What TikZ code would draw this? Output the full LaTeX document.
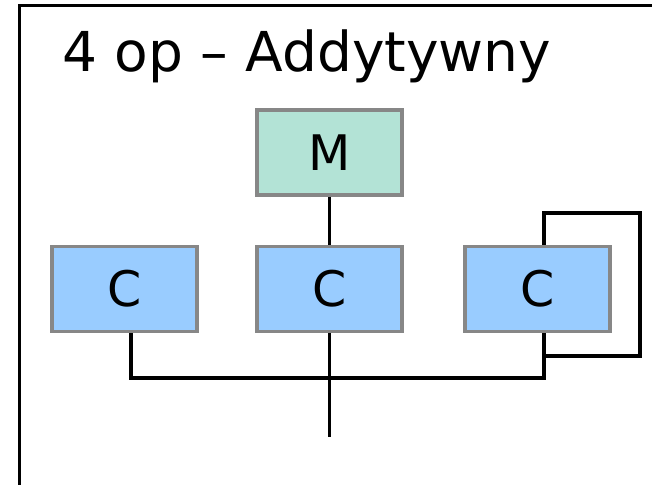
\documentclass[tikz,border=0pt]{standalone}
\usepackage{fontspec}
\setmainfont{DejaVu Sans}
\begin{document}
\begin{tikzpicture}[x=1pt,y=-1pt,
  unitbox/.style={draw=black!47, line width=3.4pt, minimum width=145pt, minimum height=85pt,
    inner sep=0pt, font=\fontsize{49}{52}\selectfont},
  mbox/.style={unitbox, fill=mfill},
  cbox/.style={unitbox, fill=cfill},
  wire/.style={line width=3.6pt, black}]
\definecolor{mfill}{HTML}{B3E3D6}
\definecolor{cfill}{HTML}{99CCFF}
\useasboundingbox (0,0) rectangle (652,484);
\clip (0,0) rectangle (652,484);
% outer frame
\draw[line width=3.8pt] (19.5,5.5) rectangle (670,500);
\node[anchor=base west, font=\fontsize{55}{60}\selectfont, inner sep=0pt] (title) at (62,72) {4 op – Addytywny};
% units
\node[mbox] (m) at (329.5,152.5) {M};
\node[cbox] (c1) at (124.5,289) {C};
\node[cbox] (c2) at (329.5,289) {C};
\node[cbox] (c3) at (537.5,289) {C};
% connections
\coordinate (j1) at (131,378);
\coordinate (j3) at (544,378);
\coordinate (out) at (329.5,437);
\coordinate (fb) at (544,356);
\draw[wire] (m.south) -- (c2.north);
\draw[wire] (c1.south -| j1) -- (j1) -- (j3) -- (c3.south -| j3);
\draw[wire] (c2.south) -- (out);
\draw[wire] (c3.north -| fb) -- (544,213) -- (640,213) -- (640,356) -- (fb);
\end{tikzpicture}
\end{document}
